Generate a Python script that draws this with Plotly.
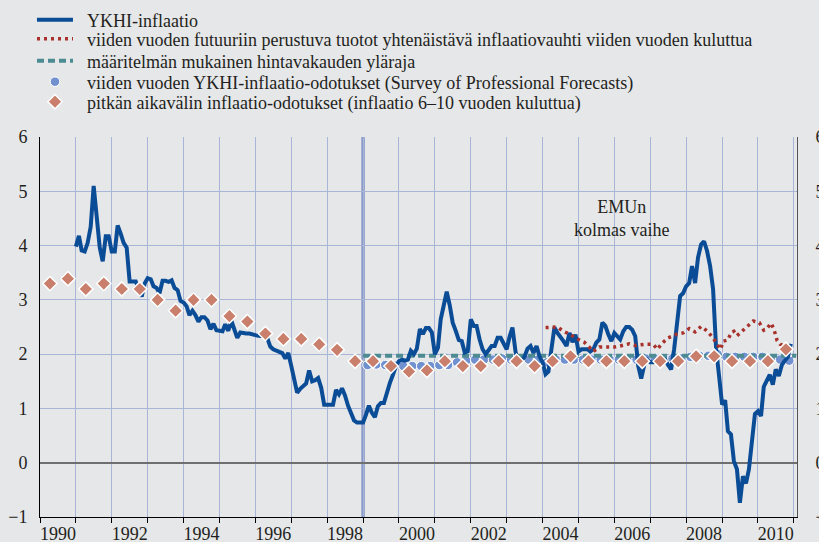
import plotly.graph_objects as go
import pandas as pd

# ---------------- data ----------------
HICP_START = "1991-01-01"
HICP = [
    # 1991
    3.98, 4.18, 3.91, 3.89, 4.05, 4.35, 5.10, 4.60, 3.96, 3.71, 4.17, 4.17,
    # 1992
    3.89, 3.89, 4.37, 4.22, 4.05, 3.96, 3.34, 3.34, 3.34, 3.22, 3.06, 3.30,
    # 1993
    3.40, 3.38, 3.25, 3.22, 3.12, 3.35, 3.35, 3.33, 3.36, 3.22, 3.18, 2.98,
    # 1994
    2.95, 2.88, 2.72, 2.80, 2.72, 2.60, 2.68, 2.68, 2.62, 2.46, 2.56, 2.44,
    # 1995
    2.43, 2.42, 2.55, 2.43, 2.62, 2.48, 2.30, 2.40, 2.38, 2.38, 2.38, 2.36,
    # 1996
    2.35, 2.34, 2.34, 2.33, 2.30, 2.14, 2.09, 2.07, 2.05, 2.02, 1.92, 2.02,
    # 1997
    1.78, 1.52, 1.29, 1.36, 1.40, 1.46, 1.70, 1.50, 1.52, 1.56, 1.38, 1.07,
    # 1998
    1.07, 1.07, 1.07, 1.34, 1.26, 1.37, 1.24, 1.05, 0.89, 0.78, 0.74, 0.74,
    # 1999
    0.74, 0.89, 1.05, 0.92, 0.84, 1.04, 1.10, 1.10, 1.32, 1.47, 1.62, 1.78,
    # 2000
    1.87, 1.90, 1.88, 1.90, 2.06, 2.00, 2.10, 2.46, 2.37, 2.48, 2.48, 2.40,
    # 2001
    2.00, 2.12, 2.64, 2.93, 3.15, 2.90, 2.58, 2.43, 2.26, 2.24, 2.03, 2.05,
    # 2002
    2.64, 2.52, 2.52, 2.27, 2.09, 2.00, 2.09, 2.15, 2.15, 2.30, 2.30, 2.21,
    # 2003
    2.09, 2.33, 2.49, 2.05, 1.82, 1.88, 1.95, 2.10, 2.15, 2.02, 2.15, 1.96,
    # 2004
    1.85, 1.63, 1.68, 2.10, 2.49, 2.39, 2.30, 2.24, 2.15, 2.39, 2.22, 2.36,
    # 2005
    2.05, 2.09, 2.09, 2.09, 2.05, 2.09, 2.21, 2.27, 2.58, 2.52, 2.36, 2.24,
    # 2006
    2.39, 2.33, 2.27, 2.42, 2.50, 2.50, 2.45, 2.33, 1.78, 1.55, 1.80, 1.90,
    # 2007
    1.85, 1.85, 1.90, 1.90, 1.90, 1.90, 1.80, 1.72, 2.09, 2.64, 3.07, 3.12,
    # 2008
    3.25, 3.31, 3.62, 3.31, 3.78, 4.02, 4.08, 3.90, 3.62, 3.20, 2.10, 1.60,
    # 2009
    1.07, 1.15, 0.58, 0.52, 0.03, -0.12, -0.74, -0.25, -0.38, -0.12, 0.49, 0.90,
    # 2010
    0.95, 0.86, 1.40, 1.50, 1.62, 1.44, 1.72, 1.60, 1.80, 1.88, 1.95, 2.19,
]

FWD_DATES = [
    "2004-02-01", "2004-06-01", "2004-08-01", "2004-10-01", "2005-01-01",
    "2005-03-01", "2005-05-01", "2005-06-01", "2005-08-01", "2005-11-01",
    "2006-01-01", "2006-03-01", "2006-06-01", "2006-08-01", "2006-11-01",
    "2007-02-01", "2007-03-15", "2007-05-01", "2007-07-01", "2007-10-01",
    "2007-12-01", "2008-02-01", "2008-04-01", "2008-06-01", "2008-08-01",
    "2008-10-01", "2008-12-15", "2009-01-15", "2009-03-01", "2009-04-01",
    "2009-05-01", "2009-06-01", "2009-08-01", "2009-09-15", "2009-11-15",
    "2010-01-15", "2010-03-01", "2010-04-01", "2010-05-15", "2010-06-15",
    "2010-07-15", "2010-08-15", "2010-10-01",
]
FWD = [
    2.49, 2.50, 2.42, 2.37, 2.27,
    2.22, 2.11, 2.05, 2.13, 2.13,
    2.13, 2.15, 2.19, 2.16, 2.18,
    2.18, 2.09, 2.20, 2.30, 2.37,
    2.39, 2.47, 2.41, 2.51, 2.43,
    2.30, 2.09, 2.24, 2.26, 2.39,
    2.42, 2.34, 2.44, 2.52, 2.61,
    2.58, 2.44, 2.47, 2.57, 2.44,
    2.25, 2.18, 2.15,
]

UPPER_DATES = ["1999-01-01", "2011-01-25"]
UPPER = [1.97, 1.97]

SPF_DATES = [f"{y}-{m:02d}-15" for y in range(1999, 2011) for m in (2, 5, 8, 11)]
SPF = [
    1.80, 1.81, 1.80, 1.79,
    1.78, 1.78, 1.78, 1.78,
    1.80, 1.80, 1.85, 1.88,
    1.90, 1.90, 1.90, 1.92,
    1.90, 1.90, 1.90, 1.90,
    1.85, 1.90, 1.90, 1.90,
    1.90, 1.90, 1.90, 1.90,
    1.90, 1.90, 1.90, 1.92,
    1.92, 1.92, 1.92, 1.92,
    1.95, 1.97, 1.97, 2.00,
    1.95, 1.95, 1.95, 1.95,
    1.95, 1.90, 1.90, 1.88,
]

LT_DATES = [f"{y}-{m:02d}-12" for y in range(1990, 2011) for m in (4, 10)]
LT = [
    3.30, 3.39, 3.20, 3.30, 3.20, 3.20, 3.00, 2.80, 3.00, 3.00,
    2.70, 2.60, 2.38, 2.28, 2.28, 2.18, 2.08, 1.87, 1.87, 1.78,
    1.68, 1.70, 1.87, 1.78, 1.78, 1.87, 1.87, 1.78, 1.87, 1.96,
    1.87, 1.87, 1.87, 1.87, 1.87, 1.87, 1.96, 1.96, 1.87, 1.87,
    1.87, 2.09,
]

NAMES = [
    "YKHI-inflaatio",
    "viiden vuoden futuuriin perustuva tuotot yhtenäistävä inflaatiovauhti viiden vuoden kuluttua",
    "määritelmän mukainen hintavakauden yläraja",
    "viiden vuoden YKHI-inflaatio-odotukset (Survey of Professional Forecasts)",
    "pitkän aikavälin inflaatio-odotukset (inflaatio 6–10 vuoden kuluttua)",
]
YEARS = list(range(1990, 2012))
YEAR_LABELS = [str(y) for y in range(1990, 2011, 2)]
EMU_START = "1999-01-01"
EMU_TEXT = "EMUn<br>kolmas vaihe"
EMU_TEXT_POS = ("2006-03-10", 4.5)
X_RANGE = ["1990-01-01", "2011-02-02"]
Y_RANGE = [-1, 6]

# ---------------- styling ----------------
FONT = "Liberation Serif, Times New Roman, serif"
BG = "#e6e7e9"
GRID = "#a9b5d7"
TXT = "#231f20"
BLUE = "#0b4c97"
RED = "#a8312b"
TEAL = "#4d8b92"
SPF_C = "#7090d0"
LT_C = "#c97f6c"
PAD = "\u00a0\u00a0"

hicp_dates = pd.date_range(HICP_START, periods=len(HICP), freq="MS")

fig = go.Figure()
# drawing order: SPF circles, upper bound, HICP, forward rate, long-term diamonds
fig.add_trace(go.Scatter(
    x=SPF_DATES, y=SPF, mode="markers", name=PAD + NAMES[3],
    marker=dict(symbol="circle", size=9.5, color=SPF_C,
                line=dict(color="white", width=1)), legend="legend4"))
fig.add_trace(go.Scatter(
    x=UPPER_DATES, y=UPPER, mode="lines", name=PAD + NAMES[2],
    line=dict(color=TEAL, width=4, dash="7px,4px"), legend="legend3"))
fig.add_trace(go.Scatter(
    x=hicp_dates, y=HICP, mode="lines", name=PAD + NAMES[0],
    line=dict(color=BLUE, width=4), legend="legend"))
fig.add_trace(go.Scatter(
    x=FWD_DATES, y=FWD, mode="lines", name=PAD + NAMES[1],
    line=dict(color=RED, width=3.5, dash="3px,4px"), legend="legend2"))
fig.add_trace(go.Scatter(
    x=LT_DATES, y=LT, mode="markers", name=PAD + NAMES[4], yaxis="y2",
    marker=dict(symbol="diamond", size=11, color=LT_C,
                line=dict(color="white", width=1.5)), legend="legend5"))

# legend rows (pixel centres from top)
plot_top, plot_h = 137, 380
row_px = [20, 39, 61, 82, 102]
leg_common = dict(x=-0.0106, xanchor="left", yanchor="middle",
                  bgcolor="rgba(0,0,0,0)", borderwidth=0,
                  font=dict(family=FONT, size=18, color=TXT),
                  itemwidth=36)
legends = {}
for i, p in enumerate(row_px):
    key = "legend" if i == 0 else f"legend{i+1}"
    legends[key] = dict(leg_common, y=1 + (plot_top - p) / plot_h)

fig.update_layout(
    width=819, height=542,
    margin=dict(l=40, r=22, t=137, b=25, autoexpand=False),
    paper_bgcolor=BG, plot_bgcolor=BG,
    font=dict(family=FONT, size=18, color=TXT),
    showlegend=True,
    **legends,
    xaxis=dict(
        type="date", range=X_RANGE,
        tickmode="array",
        tickvals=[f"{y}-07-02" for y in YEAR_LABELS],
        ticktext=YEAR_LABELS,
        ticks="", showgrid=False, automargin=False,
        showline=True, linecolor="black", linewidth=1,
        tickfont=dict(family=FONT, size=18, color=TXT),
        minor=dict(tickmode="array", tickvals=[f"{y}-01-01" for y in YEARS],
                   showgrid=True, gridcolor=GRID, gridwidth=1,
                   ticks="outside", ticklen=5, tickcolor="black", tickwidth=1),
        zeroline=False,
    ),
    yaxis=dict(
        range=Y_RANGE, tickmode="linear", tick0=-1, dtick=1,
        showgrid=True, gridcolor=GRID, gridwidth=1, automargin=False,
        zeroline=True, zerolinecolor="#6f6f6f", zerolinewidth=2,
        showline=True, linecolor="black", linewidth=1,
        ticks="", ticklabelstandoff=8,
        tickfont=dict(family=FONT, size=18, color=TXT),
    ),
    yaxis2=dict(
        range=Y_RANGE, tickmode="linear", tick0=-1, dtick=1,
        overlaying="y", side="right", showgrid=False, zeroline=False,
        showline=True, linecolor="#555555", linewidth=1, automargin=False,
        ticks="", ticklabelstandoff=14,
        tickfont=dict(family=FONT, size=18, color=TXT),
    ),
    shapes=[dict(type="line", xref="x", yref="paper", x0=EMU_START, x1=EMU_START,
                 y0=0, y1=1, line=dict(color="#8a9ac8", width=3.5), layer="between")],
    annotations=[dict(x=EMU_TEXT_POS[0], y=EMU_TEXT_POS[1], xref="x", yref="y",
                      text=EMU_TEXT, showarrow=False,
                      font=dict(family=FONT, size=18, color=TXT))],
)

fig.write_html(
    "out.html",
    config={"displayModeBar": False},
    post_script="document.body.style.margin='0px';"
                "document.body.style.background='" + BG + "';",
)
